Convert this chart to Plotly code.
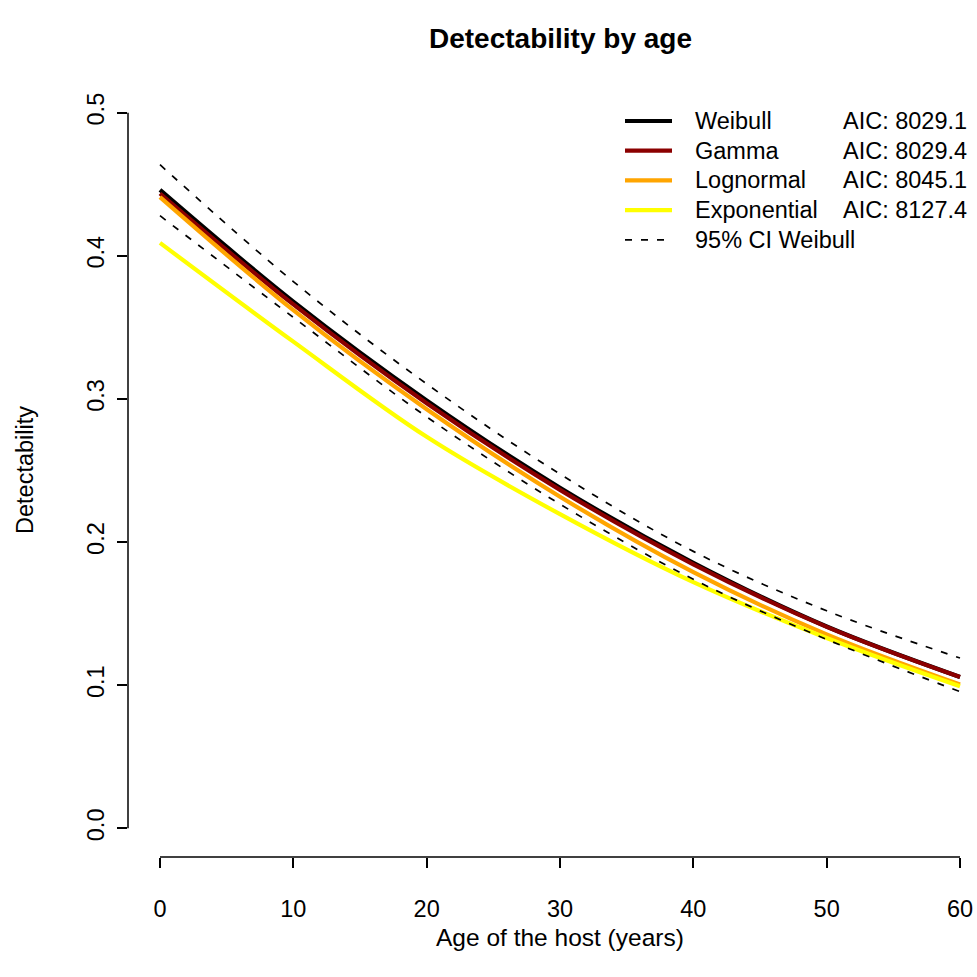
import plotly.graph_objects as go

# Host age (years) at which each fitted curve is evaluated
age = [0, 10, 20, 30, 40, 50, 60]

# Fitted detectability for each distribution
weibull = [0.446, 0.368, 0.299, 0.238, 0.1855, 0.141, 0.1058]
gamma = [0.4435, 0.366, 0.297, 0.2365, 0.1845, 0.1408, 0.1057]
lognormal = [0.441, 0.362, 0.2928, 0.2317, 0.1790, 0.1355, 0.1005]
exponential = [0.409, 0.340, 0.2735, 0.2195, 0.1720, 0.1330, 0.0993]

# 95% confidence band of the Weibull fit
weibull_upper = [0.4636, 0.382, 0.3105, 0.2475, 0.1935, 0.152, 0.119]
weibull_lower = [0.428, 0.357, 0.2875, 0.2265, 0.1740, 0.1320, 0.0955]

model_names = ["Weibull", "Gamma", "Lognormal", "Exponential"]
model_aic = [8029.1, 8029.4, 8045.1, 8127.4]
model_colors = ["#000000", "#8B0000", "#FFA500", "#FFFF00"]
ci_label = "95% CI Weibull"

x_ticks = [0, 10, 20, 30, 40, 50, 60]
y_ticks = [0.0, 0.1, 0.2, 0.3, 0.4, 0.5]

FONT = "Liberation Sans, Arial, Helvetica, sans-serif"
BASE = 23.5
DASH = "7px,9px"

W = H = 977
ML, MR, MT, MB = 128, 0, 84, 120
PW = W - ML - MR
PH = H - MT - MB
X_PAD = 2.4
X_SCALE = 800 / 60.0  # px per year


def px_x(p):
    return (p - ML) / PW


def px_y(p):
    return (H - MB - p) / PH


fig = go.Figure()

curves = [weibull, gamma, lognormal, exponential]
for name, ys, col in zip(model_names, curves, model_colors):
    fig.add_trace(go.Scatter(
        x=age, y=ys, mode="lines", name=name,
        line=dict(color=col, width=4.2, shape="spline", smoothing=1.0),
        showlegend=False, hoverinfo="skip",
    ))

for ys in (weibull_upper, weibull_lower):
    fig.add_trace(go.Scatter(
        x=age, y=ys, mode="lines", name=ci_label,
        line=dict(color="black", width=1.7, dash=DASH,
                  shape="spline", smoothing=1.0),
        showlegend=False, hoverinfo="skip",
    ))

shapes = []
annotations = []

# R-style detached axis lines spanning only the tick range
shapes.append(dict(type="line", xref="x", yref="paper",
                   x0=x_ticks[0], x1=x_ticks[-1], y0=0, y1=0,
                   line=dict(color="black", width=1.5)))
shapes.append(dict(type="line", xref="paper", yref="y",
                   x0=0, x1=0, y0=y_ticks[0], y1=y_ticks[-1],
                   line=dict(color="black", width=1.5)))

# Legend drawn in the top-right corner
row0, row_step = 121.0, 29.7
line_x0, line_x1 = 625, 672
text_x, aic_right = 693, 969
for i, (name, aic, col) in enumerate(zip(model_names, model_aic, model_colors)):
    yy = px_y(row0 + i * row_step)
    shapes.append(dict(type="line", xref="paper", yref="paper",
                       x0=px_x(line_x0), x1=px_x(line_x1), y0=yy, y1=yy,
                       line=dict(color=col, width=4.2)))
    annotations.append(dict(text=name, xref="paper", yref="paper",
                            x=px_x(text_x), y=yy, xanchor="left", yanchor="middle",
                            showarrow=False, font=dict(size=BASE, color="black")))
    annotations.append(dict(text=f"AIC: {aic:.1f}", xref="paper", yref="paper",
                            x=px_x(aic_right), y=yy, xanchor="right", yanchor="middle",
                            showarrow=False, font=dict(size=BASE, color="black")))
yy = px_y(row0 + 4 * row_step)
shapes.append(dict(type="line", xref="paper", yref="paper",
                   x0=px_x(line_x0), x1=px_x(line_x1), y0=yy, y1=yy,
                   line=dict(color="black", width=1.7, dash=DASH)))
annotations.append(dict(text=ci_label, xref="paper", yref="paper",
                        x=px_x(text_x), y=yy, xanchor="left", yanchor="middle",
                        showarrow=False, font=dict(size=BASE, color="black")))

# Titles
annotations.append(dict(text="<b>Detectability by age</b>", xref="x", yref="paper",
                        x=30, y=px_y(38), xanchor="center", yanchor="middle",
                        showarrow=False, font=dict(size=28, color="black")))
annotations.append(dict(text="Age of the host (years)", xref="x", yref="paper",
                        x=30, y=px_y(937), xanchor="center", yanchor="middle",
                        showarrow=False, font=dict(size=24.5, color="black")))
annotations.append(dict(text="Detectability", xref="paper", yref="paper",
                        x=px_x(25), y=px_y(470), xanchor="center", yanchor="middle",
                        textangle=-90, showarrow=False,
                        font=dict(size=BASE, color="black")))

fig.update_layout(
    width=W, height=H,
    margin=dict(l=ML, r=MR, t=MT, b=MB, pad=0),
    paper_bgcolor="white", plot_bgcolor="white",
    font=dict(family=FONT, size=BASE, color="black"),
    shapes=shapes, annotations=annotations,
    showlegend=False,
    xaxis=dict(range=[x_ticks[0] - X_PAD, x_ticks[0] - X_PAD + PW / X_SCALE],
               tickvals=x_ticks, ticktext=[str(v) for v in x_ticks],
               ticks="outside", ticklen=10, tickwidth=1.5, tickcolor="black",
               showgrid=False, zeroline=False, showline=False,
               ticklabelstandoff=21,
               tickfont=dict(size=BASE, color="black")),
    yaxis=dict(range=[-0.02, 0.52],
               tickvals=y_ticks, ticktext=[f"{v:.1f}" for v in y_ticks],
               ticks="outside", ticklen=10, tickwidth=1.5, tickcolor="black",
               tickangle=-90,
               showgrid=False, zeroline=False, showline=False,
               ticklabelstandoff=4,
               tickfont=dict(size=BASE, color="black")),
)

fig.write_html("out.html")
